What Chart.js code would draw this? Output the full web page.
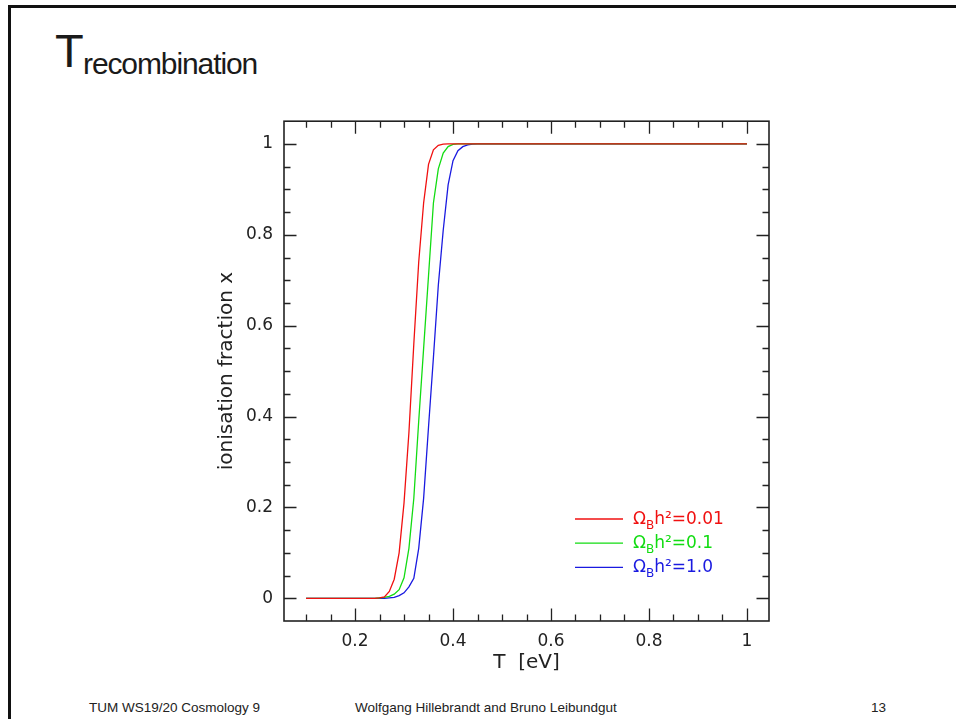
<!DOCTYPE html>
<html>
<head>
<meta charset="utf-8">
<script src="https://cdn.jsdelivr.net/npm/chart.js@4.4.1/dist/chart.umd.min.js"></script>
<style>
  html, body { margin: 0; padding: 0; background: #fff; }
  body { width: 956px; height: 719px; position: relative; overflow: hidden; font-family: "Liberation Sans", Arial, sans-serif; color: #1a1a1a; }
  .frame { position: absolute; left: 8px; top: 5px; width: 1000px; height: 800px; border-left: 3px solid #111; border-top: 3px solid #111; }
  .t-main { position: absolute; left: 55px; top: 27px; font-size: 47px; line-height: 1; }
  .t-sub { position: absolute; left: 83px; top: 49px; font-size: 30px; line-height: 1; letter-spacing: -1.1px; }
  .foot { position: absolute; top: 701px; font-size: 13.5px; line-height: 1; color: #222; white-space: nowrap; }
  #chart { position: absolute; left: 180px; top: 100px; }
</style>
</head>
<body>
<div class="frame"></div>
<div class="t-main">T</div>
<div class="t-sub">recombination</div>
<canvas id="chart" width="620" height="580"></canvas>
<div class="foot" style="left:89px">TUM WS19/20 Cosmology 9</div>
<div class="foot" style="left:355px">Wolfgang Hillebrandt and Bruno Leibundgut</div>
<div class="foot" style="left:871px">13</div>
<script>
// temperature in eV
const tEv = [0.10, 0.15, 0.20, 0.22, 0.24, 0.25, 0.26, 0.27, 0.28, 0.29, 0.30, 0.31, 0.32, 0.33, 0.34, 0.35,
  0.36, 0.37, 0.38, 0.39, 0.40, 0.41, 0.42, 0.43, 0.44, 0.45, 0.50, 0.60, 0.70, 0.80, 0.90, 1.00];

// ionisation fraction for the three baryon densities
const xOmega001 = [0, 0, 0, 0, 0, 0.001, 0.003, 0.015, 0.042, 0.10, 0.21, 0.365, 0.56, 0.74, 0.87, 0.955,
  0.987, 0.997, 0.9995, 1, 1, 1, 1, 1, 1, 1, 1, 1, 1, 1, 1, 1];
const xOmega01 = [0, 0, 0, 0, 0, 0.001, 0.002, 0.004, 0.009, 0.019, 0.045, 0.11, 0.22, 0.39, 0.55, 0.71,
  0.87, 0.945, 0.98, 0.994, 0.999, 1, 1, 1, 1, 1, 1, 1, 1, 1, 1, 1];
const xOmega1 = [0, 0, 0, 0, 0, 0, 0, 0.001, 0.002, 0.006, 0.012, 0.025, 0.044, 0.11, 0.22, 0.377,
  0.53, 0.689, 0.81, 0.91, 0.963, 0.985, 0.994, 0.998, 0.9995, 1, 1, 1, 1, 1, 1, 1];

const seriesValues = [xOmega001, xOmega01, xOmega1];
const seriesLabels = ['0.01', '0.1', '1.0'];
const seriesColors = ['#f01010', '#12dc12', '#1a1ae0'];

const xTickValues = [0.2, 0.4, 0.6, 0.8, 1];
const yTickValues = [0, 0.2, 0.4, 0.6, 0.8, 1];
const MINOR = 0.05;

const FONT = 'DejaVu Sans';
const INK = '#222';

// frame plus inward major/minor ticks on all four sides
const innerTicks = {
  id: 'innerTicks',
  afterDraw(chart) {
    const { ctx, chartArea: a, scales: { x, y } } = chart;
    ctx.save();
    ctx.strokeStyle = INK;
    ctx.lineWidth = 1.3;
    ctx.beginPath();
    for (let k = Math.ceil(x.min / MINOR); k * MINOR <= x.max; k++) {
      const px = Math.round(x.getPixelForValue(k * MINOR)) + 0.5;
      const len = k % 4 === 0 ? 12.5 : 6.5;
      ctx.moveTo(px, a.bottom); ctx.lineTo(px, a.bottom - len);
      ctx.moveTo(px, a.top); ctx.lineTo(px, a.top + len);
    }
    for (let k = Math.ceil(y.min / MINOR) + 1; k * MINOR < y.max - 1e-9; k++) {
      const py = Math.round(y.getPixelForValue(k * MINOR)) + 0.5;
      const len = k % 4 === 0 ? 12.5 : 6.5;
      ctx.moveTo(a.left, py); ctx.lineTo(a.left + len, py);
      ctx.moveTo(a.right, py); ctx.lineTo(a.right - len, py);
    }
    ctx.stroke();
    ctx.lineWidth = 1.6;
    ctx.strokeRect(a.left, a.top, a.width, a.height);
    ctx.restore();
  }
};

// legend with subscripted Omega_B
const omegaLegend = {
  id: 'omegaLegend',
  afterDraw(chart) {
    const { ctx, chartArea: a } = chart;
    ctx.save();
    seriesLabels.forEach((lab, i) => {
      const ly = a.bottom - 102 + i * 24.2;
      ctx.strokeStyle = seriesColors[i];
      ctx.lineWidth = 1.3;
      ctx.beginPath();
      ctx.moveTo(a.right - 194, ly);
      ctx.lineTo(a.right - 146, ly);
      ctx.stroke();
      ctx.fillStyle = seriesColors[i];
      ctx.textBaseline = 'alphabetic';
      let tx = a.right - 136;
      const base = ly + 4.5;
      ctx.font = '17px "' + FONT + '"';
      ctx.fillText('Ω', tx, base);
      tx += ctx.measureText('Ω').width;
      ctx.font = '12px "' + FONT + '"';
      ctx.fillText('B', tx, base + 5);
      tx += ctx.measureText('B').width;
      ctx.font = '17px "' + FONT + '"';
      ctx.fillText('h²=' + lab, tx, base);
    });
    ctx.restore();
  }
};

new Chart(document.getElementById('chart'), {
  type: 'line',
  data: {
    datasets: seriesValues.map((vals, i) => ({
      label: 'ΩBh²=' + seriesLabels[i],
      data: tEv.map((t, j) => ({ x: t, y: vals[j] })),
      borderColor: seriesColors[i],
      borderWidth: 1.3,
      pointRadius: 0,
      tension: 0,
      fill: false,
    })),
  },
  options: {
    responsive: false,
    animation: false,
    devicePixelRatio: 1,
    layout: { padding: { left: 0, right: 31, top: 18, bottom: 0 } },
    plugins: {
      legend: { display: false },
      tooltip: { enabled: false },
    },
    scales: {
      x: {
        type: 'linear',
        min: 0.055,
        max: 1.045,
        grid: { display: false, drawTicks: false },
        border: { display: false },
        afterBuildTicks: (s) => { s.ticks = xTickValues.map((v) => ({ value: v })); },
        afterFit: (s) => { s.height = 59; },
        ticks: {
          font: { family: FONT, size: 17 },
          color: INK,
          padding: 10,
          maxRotation: 0,
          autoSkip: false,
          callback: (v) => String(v),
        },
        title: {
          display: true,
          text: 'T  [eV]',
          font: { family: FONT, size: 20 },
          color: INK,
          padding: { top: 0, bottom: 5 },
        },
      },
      y: {
        type: 'linear',
        min: -0.05,
        max: 1.05,
        grid: { display: false, drawTicks: false },
        border: { display: false },
        afterBuildTicks: (s) => { s.ticks = yTickValues.map((v) => ({ value: v })); },
        afterFit: (s) => { s.width = 104; },
        ticks: {
          font: { family: FONT, size: 17 },
          color: INK,
          padding: 11,
          autoSkip: false,
          callback: (v) => String(v),
        },
        title: {
          display: true,
          text: 'ionisation fraction x',
          font: { family: FONT, size: 20 },
          color: INK,
          padding: { top: 35, bottom: 0 },
        },
      },
    },
  },
  plugins: [innerTicks, omegaLegend],
});
</script>
</body>
</html>
